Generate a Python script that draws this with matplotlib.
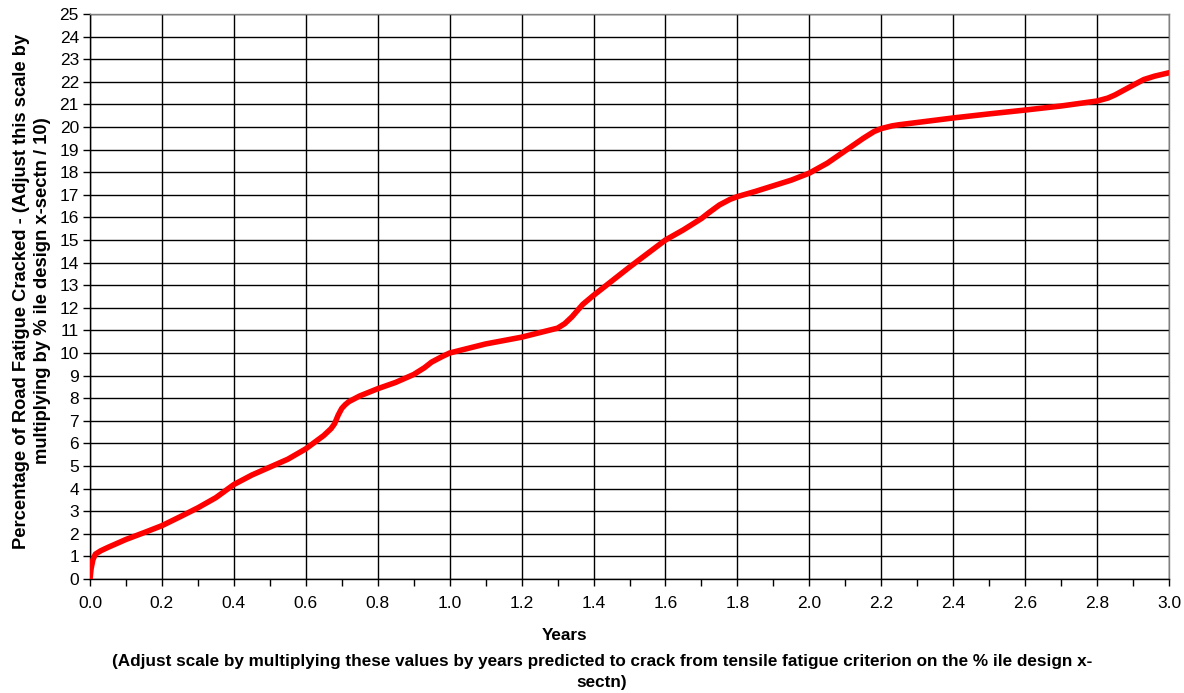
import numpy as np
import matplotlib
matplotlib.use('Agg')
import matplotlib.pyplot as plt
from matplotlib.ticker import MultipleLocator

plt.rcParams['font.family'] = ['Liberation Sans', 'DejaVu Sans']

# ── data ────────────────────────────────────────────────────────────────────
years = [0.0, 0.003, 0.008, 0.015, 0.03, 0.05, 0.1, 0.15, 0.2, 0.25, 0.3,
         0.35, 0.4, 0.45, 0.5, 0.55, 0.6, 0.65, 0.67, 0.68, 0.69, 0.70, 0.71,
         0.72, 0.75, 0.8, 0.85, 0.9, 0.93, 0.95, 0.98, 1.0, 1.05, 1.1, 1.15,
         1.2, 1.25, 1.3, 1.32, 1.34, 1.37, 1.4, 1.5, 1.6, 1.65, 1.7, 1.72,
         1.75, 1.78, 1.8, 1.85, 1.9, 1.95, 2.0, 2.05, 2.1, 2.15, 2.18, 2.2,
         2.23, 2.25, 2.3, 2.4, 2.5, 2.6, 2.7, 2.8, 2.83, 2.85, 2.9, 2.93,
         2.96, 3.0]
cracked = [0.0, 0.45, 0.85, 1.1, 1.25, 1.4, 1.75, 2.05, 2.36, 2.75, 3.15,
           3.6, 4.18, 4.6, 4.95, 5.3, 5.76, 6.35, 6.65, 6.87, 7.25, 7.55, 7.72,
           7.85, 8.1, 8.42, 8.7, 9.05, 9.35, 9.6, 9.85, 10.0, 10.2, 10.4, 10.55,
           10.7, 10.9, 11.1, 11.3, 11.6, 12.15, 12.55, 13.8, 15.0, 15.45, 15.95, 16.2,
           16.55, 16.8, 16.92, 17.15, 17.4, 17.65, 17.96, 18.4, 18.95, 19.5, 19.8, 19.93,
           20.05, 20.1, 20.2, 20.4, 20.58, 20.75, 20.93, 21.15, 21.28, 21.42, 21.85, 22.1,
           22.25, 22.4]

x_ticks = np.arange(0.0, 3.01, 0.2)
x_tick_labels = [f'{v:.1f}' for v in x_ticks]
y_ticks = list(range(0, 26))

fig = plt.figure(figsize=(11.84, 6.93), dpi=100)
ax = fig.add_axes([90 / 1184, 1 - 579 / 693, 1079 / 1184, 565 / 693])

ax.plot(years, cracked, color='#ff0000', lw=4.0, solid_capstyle='round',
        solid_joinstyle='round', zorder=3)

ax.set_xlim(0, 3.0)
ax.set_ylim(0, 25)
ax.set_xticks(x_ticks)
ax.set_xticklabels(x_tick_labels)
ax.xaxis.set_minor_locator(MultipleLocator(0.1))
ax.set_yticks(y_ticks)
ax.tick_params(axis='both', which='both', direction='out', length=5,
               width=1, labelsize=12.5, colors='black')
ax.tick_params(axis='x', pad=7)
ax.tick_params(axis='y', pad=3)

ax.grid(True, which='major', color='black', lw=1.0)
for s in ('top', 'right'):
    ax.spines[s].set_color('#808080')
for s in ('left', 'bottom'):
    ax.spines[s].set_color('black')
for s in ax.spines.values():
    s.set_linewidth(1.0)

fig.text(565 / 1184, 1 - 636 / 693, 'Years', ha='center', va='center',
         fontsize=12.3, fontweight='bold')
fig.text(602 / 1184, 1 - 672 / 693,
         '(Adjust scale by multiplying these values by years predicted to crack '
         'from tensile fatigue criterion on the % ile design x-\nsectn)',
         ha='center', va='center', fontsize=12.3, fontweight='bold',
         linespacing=1.45)
fig.text(32 / 1184, 1 - 291 / 693,
         'Percentage of Road Fatigue Cracked - (Adjust this scale by\n'
         'multiplying by % ile design x-sectn / 10)',
         ha='center', va='center', rotation=90, fontsize=13.2,
         fontweight='bold', linespacing=1.32)

fig.savefig('out.png', dpi=100)
